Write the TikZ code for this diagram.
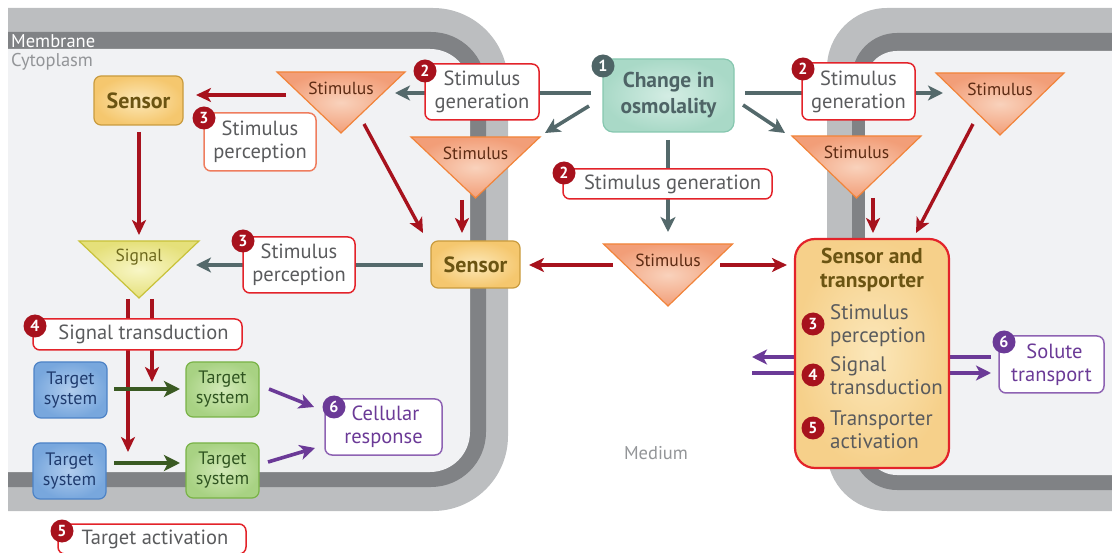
\documentclass[tikz,border=0pt]{standalone}
\usepackage{fontspec}
\setmainfont{PT Sans}
\usetikzlibrary{arrows.meta}
\newcommand{\fsz}[2]{\fontsize{#1}{#2}\selectfont}
\definecolor{memlight}{HTML}{BCBEC0}
\definecolor{memdark}{HTML}{808285}
\definecolor{cyto}{HTML}{F1F2F4}
\definecolor{slate}{HTML}{54696B}
\definecolor{darkred}{HTML}{A7121D}
\definecolor{boxred}{HTML}{E3232A}
\definecolor{salmon}{HTML}{EF7D5E}
\definecolor{txtgray}{HTML}{5A5B5D}
\definecolor{medgray}{HTML}{939598}
\definecolor{purp}{HTML}{6B3A97}
\definecolor{purpborder}{HTML}{8E63B3}
\definecolor{arrgreen}{HTML}{3A5A22}
\definecolor{triedge}{HTML}{F1843A}
\definecolor{triin}{HTML}{F9D2BC}
\definecolor{triout}{HTML}{F29E78}
\definecolor{tritext}{HTML}{5C2A12}
\definecolor{sensin}{HTML}{FCE8B8}
\definecolor{sensout}{HTML}{F5C76E}
\definecolor{sensedge}{HTML}{C99B3E}
\definecolor{senstext}{HTML}{6B5412}
\definecolor{chin}{HTML}{D4EDE4}
\definecolor{chout}{HTML}{A9D9C7}
\definecolor{chedge}{HTML}{86C7AF}
\definecolor{chtext}{HTML}{4E6466}
\definecolor{bluein}{HTML}{B1CDEE}
\definecolor{blueout}{HTML}{78A7DD}
\definecolor{blueedge}{HTML}{4D83C6}
\definecolor{bluetext}{HTML}{1F3B6E}
\definecolor{greenin}{HTML}{D3EAB9}
\definecolor{greenout}{HTML}{A8D283}
\definecolor{greenedge}{HTML}{79B347}
\definecolor{greentext}{HTML}{2F5420}
\definecolor{sigin}{HTML}{F8F6C6}
\definecolor{sigout}{HTML}{E5E07A}
\definecolor{sigedge}{HTML}{C8C23A}
\definecolor{sigtext}{HTML}{6D681C}
\definecolor{stin}{HTML}{FBE7BA}
\definecolor{stout}{HTML}{F6D08A}

\newcommand{\trishape}[7]{% name, cx, top y, half width, height, style prefix, text
  \coordinate (#1-tl) at ({#2-#4},#3);
  \coordinate (#1-tr) at ({#2+#4},#3);
  \coordinate (#1-tip) at (#2,{#3+#5});
  \shadedraw[#6tri] (#1-tl) -- (#1-tr) -- (#1-tip) -- cycle;
  \node[#6text] (#1) at (#2,{#3+16}) {#7};
}

\begin{document}
\begin{tikzpicture}[x=1pt,y=-1pt,
  lbl/.style={draw=boxred, line width=1.5pt, fill=white, rounded corners=7pt, text=txtgray, font=\fsz{20.5}{23}, align=center, inner sep=0pt},
  lblsal/.style={lbl, draw=salmon},
  lblpur/.style={lbl, draw=purpborder, text=purp},
  badge/.style={circle, fill=darkred, text=white, font=\bfseries\fsz{16}{16}, inner sep=0pt, minimum size=23pt},
  badgeslate/.style={badge, fill=chtext},
  badgepur/.style={badge, fill=purp},
  sensorbox/.style={draw=sensedge, line width=1.2pt, inner color=sensin, outer color=sensout, rounded corners=7pt, text=senstext, font=\bfseries\fsz{22}{24}, inner sep=0pt},
  changebox/.style={draw=chedge, line width=1.2pt, inner color=chin, outer color=chout, rounded corners=10pt, text=chtext, font=\bfseries\fsz{21.5}{26}, align=center, inner sep=0pt},
  bluebox/.style={draw=blueedge, line width=1.2pt, inner color=bluein, outer color=blueout, rounded corners=7pt, text=bluetext, font=\fsz{18}{20}, align=center, inner sep=0pt, minimum width=73pt, minimum height=56pt},
  greenbox/.style={bluebox, draw=greenedge, inner color=greenin, outer color=greenout, text=greentext},
  stbox/.style={draw=boxred, line width=2.2pt, inner color=stin, outer color=stout, rounded corners=20pt, inner sep=0pt},
  sttitle/.style={text=senstext, font=\bfseries\fsz{21.5}{24}, align=center, inner sep=0pt},
  stitem/.style={text=txtgray, font=\fsz{21}{23}, align=left, anchor=west, inner sep=0pt},
  stimtri/.style={draw=triedge, line width=1.2pt, inner color=triin, outer color=triout},
  stimtext/.style={text=tritext, font=\fsz{17.5}{18}, inner sep=0pt},
  sigtri/.style={draw=sigedge, line width=1.2pt, inner color=sigin, outer color=sigout},
  sigtext/.style={text=sigtext, font=\fsz{17.5}{18}, inner sep=0pt},
  redarr/.style={draw=darkred, line width=3.4pt, -{Stealth[length=15pt,width=14pt,inset=4pt]}},
  slatearr/.style={draw=slate, line width=3.6pt, -{Stealth[length=15pt,width=15pt,inset=4pt]}},
  greenarr/.style={draw=arrgreen, line width=3.8pt, -{Stealth[length=16pt,width=16pt,inset=4pt]}},
  purarr/.style={draw=purp, line width=3.6pt, -{Stealth[length=15pt,width=15pt,inset=4pt]}}
]
\useasboundingbox (0,0) rectangle (1112,553);

% ---------- membranes ----------
\begin{scope}
  \clip (8,0) rectangle (620,553);
  \fill[memlight, rounded corners=75pt] (-150,8) rectangle (508,511);
  \fill[memdark, rounded corners=55pt] (-150,32) rectangle (486,487);
  \fill[cyto, rounded corners=40pt] (-150,49) rectangle (470,472);
\end{scope}
\begin{scope}
  \clip (700,0) rectangle (1112,553);
  \fill[memlight, rounded corners=60pt] (827,8) rectangle (1300,511);
  \fill[memdark, rounded corners=45pt] (852,33) rectangle (1300,490);
  \fill[cyto, rounded corners=32pt] (865,51) rectangle (1300,475);
\end{scope}
\node[anchor=west, text=white, font=\fsz{18.5}{19}, inner sep=0pt] (memlab) at (11,41) {Membrane};
\node[anchor=west, text=medgray, font=\fsz{18.5}{19}, inner sep=0pt] (cytolab) at (11,62) {Cytoplasm};
\node[text=medgray, font=\fsz{18.5}{19}, inner sep=0pt] (medlab) at (656,453) {Medium};

% ---------- connectors behind boxes ----------
\draw[slatearr] (591,93) -- (395,93);
\draw[slatearr] (745,93) -- (943,93);
\draw[slatearr] (589,106) -- (545,133);
\draw[slatearr] (743,105) -- (785,133);
\draw[slatearr] (668,140) -- (668,232);
\draw[slatearr] (423,265) -- (196,265);
\draw[redarr] (128,299) -- (128,452);
\draw[redarr] (152,299) -- (152,382);
\draw[purarr] (991,357) -- (752,357);
\draw[purarr] (752,373) -- (991,373);

% ---------- triangles ----------
\trishape{T1}{341}{72}{64}{61}{stim}{Stimulus}
\trishape{T2}{475.5}{137}{64.5}{61}{stim}{Stimulus}
\trishape{T3}{1000}{73}{64}{62}{stim}{Stimulus}
\trishape{T4}{856.5}{136}{64.5}{62}{stim}{Stimulus}
\trishape{T5}{668}{244}{64.5}{62}{stim}{Stimulus}
\trishape{SG}{139}{241}{60}{57}{sig}{Signal}

% ---------- boxes ----------
\node[changebox, minimum width=131pt, minimum height=73pt] (chg) at (668.5,95.5) {Change in\\osmolality};
\node[badgeslate] (b1) at (603,66) {1};

\node[lbl, minimum width=114pt, minimum height=56pt] (sgl) at (482,92) {Stimulus\\generation};
\node[badge] (b2l) at (425,71) {2};
\node[lbl, minimum width=113pt, minimum height=57pt] (sgr) at (858.5,91.5) {Stimulus\\generation};
\node[badge] (b2r) at (803,69) {2};
\node[lbl, minimum width=209pt, minimum height=30pt] (sgm) at (667.5,184) {\hspace*{10pt}Stimulus generation};
\node[badge] (b2m) at (564,173) {2};

\node[sensorbox, minimum width=89pt, minimum height=49pt] (S1) at (138.5,100.5) {Sensor};
\node[sensorbox, minimum width=89pt, minimum height=47pt] (S2) at (475.5,264.5) {Sensor};

\node[lblsal, minimum width=112pt, minimum height=58pt] (sp1) at (260,142) {Stimulus\\perception};
\node[badge] (b3a) at (204,118) {3};
\node[lbl, minimum width=112pt, minimum height=56pt] (sp2) at (299,265) {Stimulus\\perception};
\node[badge] (b3b) at (243,241) {3};

\node[lbl, minimum width=209pt, minimum height=31pt] (st) at (137.5,334.5) {\hspace*{12pt}Signal transduction};
\node[badge] (b4) at (35,326) {4};

\node[bluebox] (tb1) at (70.5,390) {Target\\system};
\node[bluebox] (tb2) at (69.5,471) {Target\\system};
\node[greenbox, minimum height=55pt] (tg1) at (222.5,389.5) {Target\\system};
\node[greenbox, minimum height=55pt] (tg2) at (222.5,470.5) {Target\\system};

\node[lblpur, minimum width=117pt, minimum height=56pt] (cr) at (383.5,427) {\hspace*{4pt}Cellular\\response};
\node[badgepur] (b6a) at (334,407) {6};

\node[lbl, minimum width=188pt, minimum height=30pt] (ta) at (152,539) {\hspace*{6pt}Target activation};
\node[badge] (b5) at (62,531) {5};

\node[stbox, minimum width=154pt, minimum height=229pt] (stp) at (872,353.5) {};
\node[sttitle] (stt) at (872,270) {Sensor and\\transporter};
\node[badge] (b3c) at (813,324) {3};
\node[stitem] (sti1) at (830,325.5) {Stimulus\\perception};
\node[badge] (b4c) at (813,375) {4};
\node[stitem] (sti2) at (830,375.5) {Signal\\transduction};
\node[badge] (b5c) at (813,428) {5};
\node[stitem] (sti3) at (830,429.5) {Transporter\\activation};

\node[lblpur, minimum width=105pt, minimum height=57pt] (sol) at (1051.5,364.5) {\hspace*{6pt}Solute\\transport};
\node[badgepur] (b6b) at (1004,342) {6};

% ---------- connectors in front ----------
\draw[redarr] (286,95) -- (196,95);
\draw[redarr] (364,124) -- (423,233);
\draw[redarr] (462,200) -- (462,233);
\draw[redarr] (139,132) -- (139,235);
\draw[redarr] (613,265) -- (529,265);
\draw[redarr] (720,265) -- (787,265);
\draw[redarr] (873,198) -- (873,233);
\draw[redarr] (973,124) -- (916,233);
\draw[greenarr] (114,389) -- (180,389);
\draw[greenarr] (114,463) -- (180,463);
\draw[purarr] (269,389) -- (314,407);
\draw[purarr] (268,462) -- (315,448);
\end{tikzpicture}
\end{document}
